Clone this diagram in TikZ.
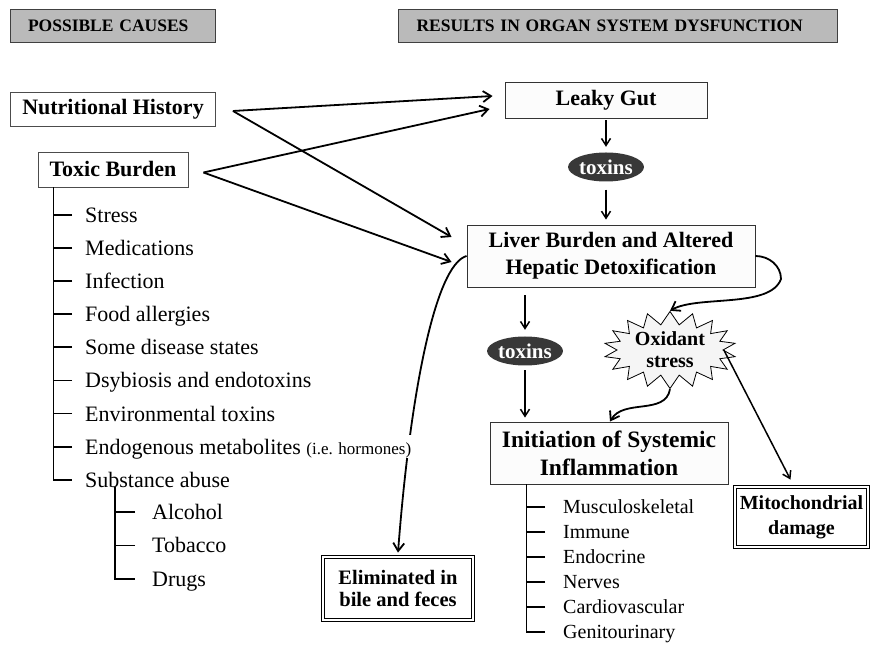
\documentclass[tikz,border=0pt]{standalone}
\usepackage{fontspec}
\setmainfont{Liberation Serif}
\usetikzlibrary{arrows.meta,shapes.geometric,shapes.symbols}

\newcommand{\fs}[2]{\fontsize{#1}{#2}\selectfont}

\begin{document}
\begin{tikzpicture}[x=1pt,y=1pt,>={Straight Barb[length=8pt,width=11pt]},
  hdr/.style={draw=black!75,fill=black!27,line width=0.9pt,inner xsep=18pt,
    minimum height=33pt,align=left,font=\fs{17.5}{20}\bfseries},
  cause/.style={draw=black!70,fill=white,line width=0.9pt,inner sep=0pt,
    minimum height=34pt,font=\fs{22}{26}\bfseries},
  organ/.style={draw=black!80,fill=black!1,line width=0.9pt,inner sep=0pt,
    align=center,font=\fs{22}{27}\bfseries},
  toxin/.style={ellipse,fill=black!78,text=white,inner sep=0pt,
    minimum width=68pt,minimum height=29pt,font=\fs{21}{24}\bfseries},
  final/.style={draw,double,double distance=1.6pt,line width=0.8pt,fill=white,
    inner sep=0pt,align=center},
  item/.style={anchor=west,inner sep=0pt,text height=15pt,text depth=0pt,
    font=\fs{22}{26}},
  organitem/.style={anchor=west,inner sep=0pt,text height=13pt,text depth=0pt,
    font=\fs{20}{24}},
  link/.style={->,line width=1.8pt},
  vlink/.style={-{Straight Barb[length=7pt,width=9pt]},line width=1.5pt},
  tree/.style={line width=1.8pt}]
  \useasboundingbox (0,0) rectangle (870,645);

  % headings
  \node[hdr,text width=169pt] (pc) at (112.5,619.5) {POSSIBLE CAUSES};
  \node[hdr,text width=403pt] (rs) at (618,619.5) {RESULTS IN ORGAN SYSTEM DYSFUNCTION};

  % organ systems
  \node[organ,minimum width=202pt,minimum height=36pt] (lg) at (606,545) {Leaky Gut};
  \node[toxin] (t1) at (606,478) {toxins};
  \node[organ,minimum width=288pt,minimum height=62pt] (lv) at (611,389)
    {Liver Burden and Altered\\Hepatic Detoxification};
  \node[toxin] (t2) at (525,294) {toxins};
  \node[starburst,starburst points=18,starburst point height=13pt,random starburst=0,
    draw,fill=black!4,line width=0.8pt,minimum width=132pt,minimum height=76pt,
    inner sep=0pt,align=center,font=\fs{20}{22}\bfseries] (ox) at (670,295) {Oxidant\\stress};
  \node[organ,minimum width=238pt,minimum height=62pt,font=\fs{23.5}{28}\bfseries] (in)
    at (609,192) {Initiation of Systemic\\Inflammation};
  \node[final,minimum width=150pt,minimum height=63pt,font=\fs{20.5}{22}\bfseries] (el)
    at (398,56.5) {Eliminated in\\bile and feces};
  \node[final,minimum width=133pt,minimum height=60pt,font=\fs{20}{25}\bfseries] (mt)
    at (801.5,128) {Mitochondrial\\damage};
  \foreach \t [count=\i] in {Musculoskeletal,Immune,Endocrine,Nerves,Cardiovascular,Genitourinary}
    \node[organitem] (o\i) at (563,{138-(\i-1)*25}) {\t};
  \foreach \i in {1,...,5}
    \draw[tree] ([xshift=-18pt]o\i.west) -- ++(-18pt,0);
  \draw[tree] ([xshift=37pt]in.south west) |- ([xshift=-18pt]o6.west);

  % causes
  \node[cause,minimum width=205pt] (nh) at (113,536) {Nutritional History};
  \node[cause,minimum width=150pt,minimum height=35pt] (tb) at (113,475.5) {Toxic Burden};
  \draw[link] (lv.west) .. controls (435,380) and (410,250) .. ([yshift=4pt]el.north);
  \foreach \t [count=\i] in {Stress,Medications,Infection,Food allergies,Some disease states,
    Dsybiosis and endotoxins,Environmental toxins,
    Endogenous metabolites {\fs{17}{20}(i.e. hormones)},Substance abuse}
    \node[item,fill=white,text height=19pt,text depth=4pt] (c\i) at (85,{430-(\i-1)*33.1}) {\t};
  \foreach \i in {1,...,8}
    \draw[tree] ([xshift=-13pt]c\i.west) -- ++(-18pt,0);
  \draw[tree] ([xshift=16pt]tb.south west) |- ([xshift=-13pt]c9.west);
  \foreach \t [count=\i] in {Alcohol,Tobacco,Drugs}
    \node[item] (s\i) at (152,{133-(\i-1)*33.5}) {\t};
  \foreach \i in {1,2}
    \draw[tree] ([xshift=-17pt]s\i.west) -- ++(-20pt,0);
  \draw[tree] ([xshift=30pt,yshift=4pt]c9.south west) |- ([xshift=-17pt]s3.west);

  % arrows
  \draw[link] ([xshift=17pt,yshift=-2pt]nh.east) -- ([xshift=-12pt,yshift=4pt]lg.west);
  \draw[link] ([xshift=17pt,yshift=-2pt]nh.east) -- ([xshift=-15pt,yshift=19pt]lv.west);
  \draw[link] ([xshift=15pt,yshift=-3pt]tb.east) -- ([xshift=-15pt,yshift=-9pt]lg.west);
  \draw[link] ([xshift=15pt,yshift=-3pt]tb.east) -- ([xshift=-15pt,yshift=-6pt]lv.west);
  \draw[vlink,shorten <=2pt,shorten >=5.5pt] (lg.south) -- (t1.north);
  \draw[vlink,shorten <=8pt,shorten >=5pt] (t1.south) -- (t1.south |- lv.north);
  \draw[vlink,shorten <=8pt,shorten >=6.5pt] (lv.south -| t2.north) -- (t2.north);
  \draw[vlink,shorten <=4.5pt,shorten >=4pt] (t2.south) -- (t2.south |- in.north);
  \coordinate (ob) at (781,366);
  \draw[link] (lv.east) to[out=0,in=90] (ob) to[out=-110,in=30,looseness=0.7] (ox.north);
  \draw[link] (ox.south) to[out=-100,in=60] ([xshift=1pt]in.north);
  \draw[vlink] (ox.east) -- ([xshift=-11pt,yshift=7pt]mt.north);
\end{tikzpicture}
\end{document}
